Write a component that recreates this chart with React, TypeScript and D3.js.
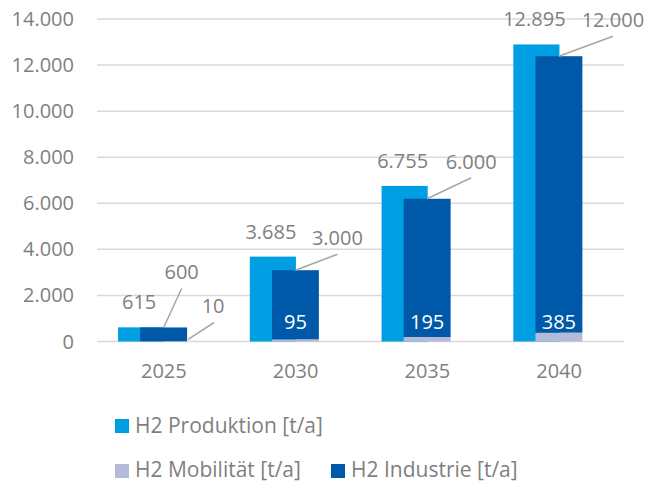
import React from "react";
import * as d3 from "d3";

const years = ["2025", "2030", "2035", "2040"];
const produktion = [615, 3685, 6755, 12895];
const mobilitaet = [10, 95, 195, 385];
const industrie = [600, 3000, 6000, 12000];
const yTicks = [0, 2000, 4000, 6000, 8000, 10000, 12000, 14000];
const legendLabels = ["H2 Produktion [t/a]", "H2 Mobilität [t/a]", "H2 Industrie [t/a]"];

// label offsets (layout) for Industrie leader labels, relative to bar top centre
const indLabelOffsets: [number, number][] = [
  [18, -48],
  [42, -25],
  [44, -30],
  [54, -29],
];

const C_PROD = "#009FE3";
const C_IND = "#0059A8";
const C_MOB = "#B3BBD8";
const C_TEXT = "#7F7F7F";
const C_GRID = "#D9D9D9";
const C_LEADER = "#A6A6A6";
const FONT = "'Open Sans', sans-serif";

const fmt = (v: number) => d3.format(",")(v).replace(/,/g, ".");

export default function App() {
  const W = 645, H = 482;
  const x = d3.scaleBand<string>().domain(years).range([97, 624]).padding(0);
  const y = d3.scaleLinear().domain([0, 14000]).range([341.5, 19]);
  const bw = x.bandwidth();
  const y0 = y(0);
  const fs = 20;

  return (
    <svg width={W} height={H} style={{ position: "absolute", left: 0, top: 0, background: "#fff" }} fontFamily={FONT}>
      {/* grid */}
      {yTicks.map((t) => (
        <g key={t}>
          <line x1={97} x2={624} y1={y(t)} y2={y(t)} stroke={C_GRID} strokeWidth={1.5} />
          <text x={74} y={y(t)} dy="0.35em" textAnchor="end" fontSize={fs} fill={C_TEXT}>
            {fmt(t)}
          </text>
        </g>
      ))}
      {/* bars */}
      {years.map((yr, i) => {
        const c = (x(yr) as number) + bw / 2;
        const px = c - 0.34 * bw;
        const pw = 0.35 * bw;
        const dx = c - 0.172 * bw;
        const dw = 0.356 * bw;
        const mobTop = y(mobilitaet[i]);
        const indTop = y(mobilitaet[i] + industrie[i]);
        const [ox, oy] = indLabelOffsets[i];
        const dc = dx + dw / 2;
        const lx = dc + ox;
        const ly = indTop + oy;
        return (
          <g key={yr}>
            <rect x={px} y={y(produktion[i])} width={pw} height={y0 - y(produktion[i])} fill={C_PROD} />
            <rect x={dx} y={mobTop} width={dw} height={y0 - mobTop} fill={C_MOB} />
            <rect x={dx} y={indTop} width={dw} height={mobTop - indTop} fill={C_IND} />
            {/* Produktion label */}
            <text x={px + pw / 2 - 2} y={y(produktion[i]) - 18} textAnchor="middle" fontSize={fs} fill={C_TEXT}>
              {fmt(produktion[i])}
            </text>
            {/* Industrie label with leader */}
            <line x1={dc} y1={indTop} x2={lx} y2={ly + 9} stroke={C_LEADER} strokeWidth={1.5} />
            <text x={lx} y={ly} textAnchor="middle" fontSize={fs} fill={C_TEXT}>
              {fmt(industrie[i])}
            </text>
            {/* Mobilität label */}
            {i === 0 ? (
              <g>
                <line x1={dx + dw + 1} y1={mobTop - 2} x2={dx + dw + 27} y2={y0 - 19} stroke={C_LEADER} strokeWidth={1.5} />
                <text x={dx + dw + 26} y={y0 - 29} textAnchor="middle" fontSize={fs} fill={C_TEXT}>
                  {fmt(mobilitaet[i])}
                </text>
              </g>
            ) : (
              <text x={dc} y={y0 - 13} textAnchor="middle" fontSize={fs} fill="#ffffff">
                {fmt(mobilitaet[i])}
              </text>
            )}
            {/* x label */}
            <text x={c + 1} y={378} textAnchor="middle" fontSize={fs} fill={C_TEXT}>
              {yr}
            </text>
          </g>
        );
      })}
      {/* legend */}
      <g fontSize={21} fill={C_TEXT}>
        <rect x={115} y={419} width={14} height={14} fill={C_PROD} />
        <text x={135} y={433}>{legendLabels[0]}</text>
        <rect x={115} y={464} width={14} height={14} fill={C_MOB} />
        <text x={135} y={477}>{legendLabels[1]}</text>
        <rect x={331} y={464} width={14} height={14} fill={C_IND} />
        <text x={351} y={477}>{legendLabels[2]}</text>
      </g>
    </svg>
  );
}
